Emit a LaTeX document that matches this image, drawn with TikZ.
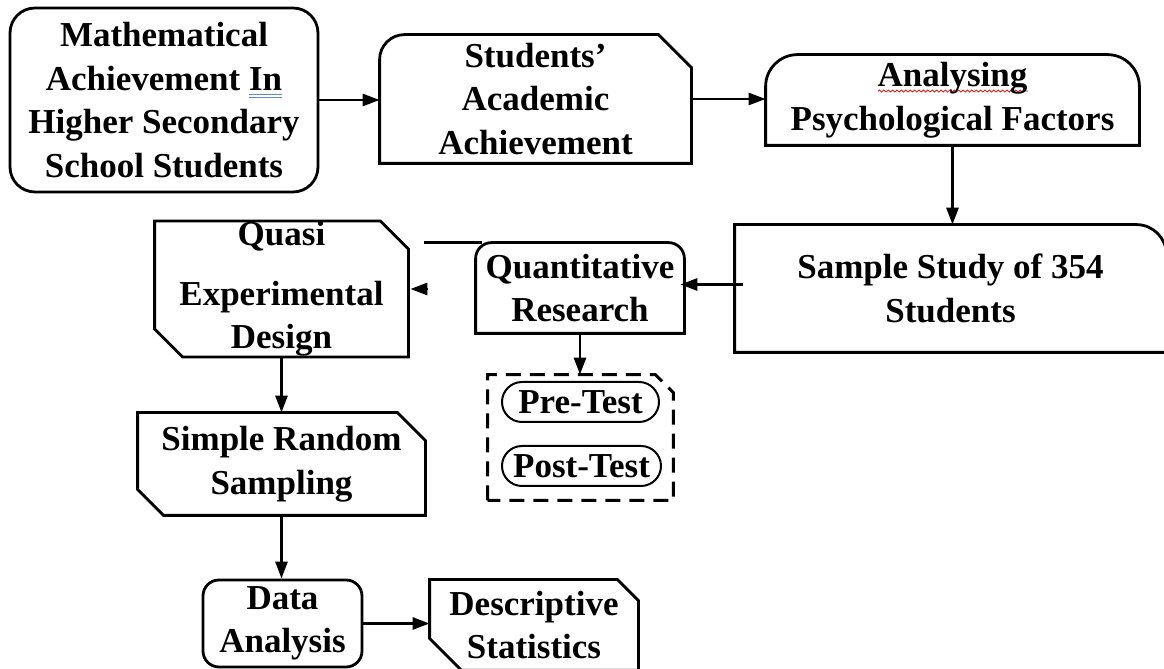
\documentclass[tikz,border=0pt]{standalone}
\usepackage{fontspec}
\setmainfont{Liberation Serif}
\usetikzlibrary{arrows.meta,calc,decorations.pathmorphing}
\definecolor{gram}{RGB}{95,135,215}
\definecolor{spell}{RGB}{225,40,40}
\newlength{\ullen}
\newcommand{\drawthick}{\draw[line width=1.4pt]}
\newcommand{\grammarline}[1]{\settowidth{\ullen}{#1}\rlap{\color{gram}\rule[-2.2pt]{\ullen}{0.45pt}\kern-\ullen\rule[-3.7pt]{\ullen}{0.45pt}}#1}
\newcommand{\spellline}[1]{\settowidth{\ullen}{#1}\rlap{\raisebox{-3pt}{\tikz\draw[spell,line width=0.45pt,decorate,decoration={snake,amplitude=0.5pt,segment length=2.2pt}] (0,0) -- (\ullen,0);}}#1}
\newcommand{\roundtop}[2]{\drawthick (#1.south west) -- ([yshift=-#2]#1.north west) arc[start angle=180,end angle=90,radius=#2] -- ([xshift=-#2]#1.north east) arc[start angle=90,end angle=0,radius=#2] -- (#1.south east) -- cycle;}
\newcommand{\roundright}[2]{\drawthick (#1.south west) -- (#1.north west) -- ([xshift=-#2]#1.north east) arc[start angle=90,end angle=0,radius=#2] -- (#1.south east) -- cycle;}
\newcommand{\roundsnip}[3]{\drawthick (#1.south west) -- ([yshift=-#2]#1.north west) arc[start angle=180,end angle=90,radius=#2] -- ([xshift=-#3]#1.north east) -- ([yshift=-#3]#1.north east) -- (#1.south east) -- cycle;}
\newcommand{\snipboth}[3]{\drawthick ([yshift=#3]#1.south west) -- (#1.north west) -- ([xshift=-#2]#1.north east) -- ([yshift=-#2]#1.north east) -- (#1.south east) -- ([xshift=#3]#1.south west) -- cycle;}
\tikzset{
  boxtext/.style={inner sep=0pt,align=center,font=\bfseries\fontsize{17.5}{21.8}\selectfont},
  roundbox/.style={boxtext,draw,line width=1.4pt,rounded corners=#1},
  pill/.style={boxtext,draw,line width=1pt,rounded corners=10pt,minimum height=20pt},
  flow/.style={line width=1.4pt,-{Triangle[length=8.5pt,width=6pt]}},
  dashbox/.style={line width=1.5pt,dash pattern=on 7.5pt off 4.5pt}
}
\begin{document}
\begin{tikzpicture}[x=0.5pt,y=0.5pt]
\path[use as bounding box,clip] (0,0) rectangle (1164,669);
\node[roundbox=12.5pt,minimum width=154pt,minimum height=92pt] (math) at (164,569) {Mathematical\\Achievement \grammarline{In}\\Higher Secondary\\School Students};
\node[boxtext,minimum width=155.5pt,minimum height=64pt] (acad) at (535.5,570) {Students’\\Academic\\Achievement};
\node[boxtext,minimum width=186.5pt,minimum height=45pt] (psych) at (952.5,569) {\spellline{Analysing}\\Psychological Factors};
\node[boxtext,minimum width=215.5pt,minimum height=63.5pt] (sample) at (950.5,380.5) {Sample Study of 354\\Students};
\node[boxtext,minimum width=104pt,minimum height=45pt] (quant) at (580,381) {Quantitative\\Research};
\node[boxtext,minimum width=126.5pt,minimum height=61pt] (quasi) at (281.5,380) {Quasi\\[8pt]Experimental\\Design};
\node[minimum width=92.5pt,minimum height=62.5pt,inner sep=0pt] (tests) at (580.5,231.5) {};
\node[pill,minimum width=78.5pt] (pre) at (580.5,267) {Pre-Test};
\node[pill,minimum width=79.5pt] (post) at (581.5,203) {Post-Test};
\node[boxtext,minimum width=143.5pt,minimum height=51pt] (srs) at (281.5,205) {Simple Random\\Sampling};
\node[roundbox=8pt,minimum width=79.5pt,minimum height=43.5pt] (da) at (282.5,45.5) {Data\\Analysis};
\node[boxtext,minimum width=104pt,minimum height=45pt] (ds) at (534,44) {Descriptive\\Statistics};
\roundsnip{acad}{12.5pt}{16.5pt}
\roundtop{psych}{16pt}
\roundright{sample}{15pt}
\roundtop{quant}{8pt}
\snipboth{quasi}{14pt}{14pt}
\snipboth{srs}{14pt}{13pt}
\snipboth{ds}{10.5pt}{16pt}
\draw[dashbox] (tests.south west) -- (tests.north west) -- ([xshift=-9pt]tests.north east) -- ([yshift=-9pt]tests.north east) -- (tests.south east) -- cycle;
\foreach \a/\b in {math/acad,acad/psych,da/ds}
  \draw[flow] (\a.east) -- (\a.east -| \b.west);
\foreach \a/\b in {psych/sample,quant/tests,quasi/srs,srs/da}
  \draw[flow] (\a.south) -- (\a.south |- \b.north);
\draw[flow] ($(sample.west)+(4pt,2pt)$) -- ($(quant.east |- sample.west)+(-2pt,2pt)$);
\draw[flow] ($(quasi.east)+(9.5pt,0)$) -- ($(quasi.east)+(1pt,0)$);
\drawthick ($(quant.north west)+(3pt,0)$) -- ++(-29pt,0);
\end{tikzpicture}
\end{document}
